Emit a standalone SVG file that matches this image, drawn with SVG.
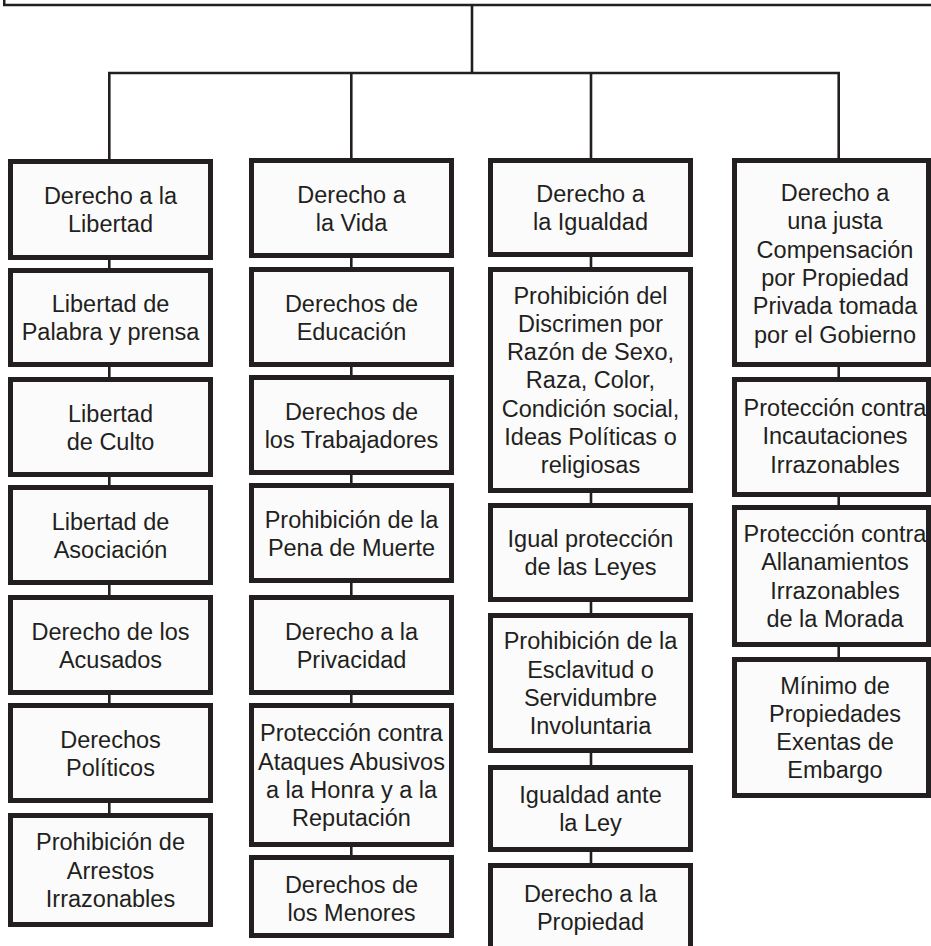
<svg xmlns="http://www.w3.org/2000/svg" width="931" height="946" viewBox="0 0 931 946">
<style>
.bg{fill:#ffffff}
.box{fill:#fbfbfb;stroke:#231f20;stroke-width:5}
.top{fill:#ffffff;stroke:#231f20;stroke-width:2.5}
.conn{stroke:#231f20;stroke-width:2.6;fill:none}
text{font-family:"Liberation Sans",Arial,Helvetica,sans-serif;font-size:23.5px;fill:#231f20;text-anchor:middle}
</style>
<rect class="bg" x="0" y="0" width="931" height="946"/>
<g id="root"><rect class="top" x="4.25" y="-20" width="950" height="25"/></g>
<g id="connectors">
<line class="conn" x1="472" y1="5" x2="472" y2="73"/>
<line class="conn" x1="108" y1="73" x2="840" y2="73"/>
<line class="conn" x1="109.3" y1="73" x2="109.3" y2="815"/>
<line class="conn" x1="351.3" y1="73" x2="351.3" y2="857"/>
<line class="conn" x1="591" y1="73" x2="591" y2="865"/>
<line class="conn" x1="838.7" y1="73" x2="838.7" y2="660"/>
</g>
<g id="c1n1"><rect class="box" x="10.5" y="161.5" width="200" height="96"/><text x="110.5" y="204">Derecho a la</text><text x="110.5" y="232.3">Libertad</text></g>
<g id="c1n2"><rect class="box" x="10.5" y="270.5" width="200" height="94"/><text x="110.5" y="312">Libertad de</text><text x="110.5" y="340.3">Palabra y prensa</text></g>
<g id="c1n3"><rect class="box" x="10.5" y="379.5" width="200" height="95"/><text x="110.5" y="421.5">Libertad</text><text x="110.5" y="449.8">de Culto</text></g>
<g id="c1n4"><rect class="box" x="10.5" y="487.5" width="200" height="95"/><text x="110.5" y="529.5">Libertad de</text><text x="110.5" y="557.8">Asociación</text></g>
<g id="c1n5"><rect class="box" x="10.5" y="597.5" width="200" height="95"/><text x="110.5" y="639.5">Derecho de los</text><text x="110.5" y="667.8">Acusados</text></g>
<g id="c1n6"><rect class="box" x="10.5" y="705.5" width="200" height="95"/><text x="110.5" y="747.5">Derechos</text><text x="110.5" y="775.8">Políticos</text></g>
<g id="c1n7"><rect class="box" x="10.5" y="815.5" width="200" height="109"/><text x="110.5" y="850.3">Prohibición de</text><text x="110.5" y="878.6">Arrestos</text><text x="110.5" y="906.9">Irrazonables</text></g>

<g id="c2n1"><rect class="box" x="251.5" y="160.5" width="200" height="95"/><text x="351.5" y="202.5">Derecho a</text><text x="351.5" y="230.8">la Vida</text></g>
<g id="c2n2"><rect class="box" x="251.5" y="269.5" width="200" height="95"/><text x="351.5" y="311.5">Derechos de</text><text x="351.5" y="339.8">Educación</text></g>
<g id="c2n3"><rect class="box" x="251.5" y="377.5" width="200" height="95"/><text x="351.5" y="419.5">Derechos de</text><text x="351.5" y="447.8">los Trabajadores</text></g>
<g id="c2n4"><rect class="box" x="251.5" y="485.5" width="200" height="95"/><text x="351.5" y="527.5">Prohibición de la</text><text x="351.5" y="555.8">Pena de Muerte</text></g>
<g id="c2n5"><rect class="box" x="251.5" y="597.5" width="200" height="95"/><text x="351.5" y="639.5">Derecho a la</text><text x="351.5" y="667.8">Privacidad</text></g>
<g id="c2n6"><rect class="box" x="251.5" y="705.5" width="200" height="139"/><text x="351.5" y="741.2">Protección contra</text><text x="351.5" y="769.5">Ataques Abusivos</text><text x="351.5" y="797.8">a la Honra y a la</text><text x="351.5" y="826.1">Reputación</text></g>
<g id="c2n7"><rect class="box" x="251.5" y="857.5" width="200" height="78"/><text x="351.5" y="892.5">Derechos de</text><text x="351.5" y="920.8">los Menores</text></g>

<g id="c3n1"><rect class="box" x="490.5" y="160.5" width="200" height="94"/><text x="590.5" y="202">Derecho a</text><text x="590.5" y="230.3">la Igualdad</text></g>
<g id="c3n2"><rect class="box" x="490.5" y="269.5" width="200" height="221"/><text x="590.5" y="303.5">Prohibición del</text><text x="590.5" y="331.8">Discrimen por</text><text x="590.5" y="360.1">Razón de Sexo,</text><text x="590.5" y="388.4">Raza, Color,</text><text x="590.5" y="416.7">Condición social,</text><text x="590.5" y="445">Ideas Políticas o</text><text x="590.5" y="473.3">religiosas</text></g>
<g id="c3n3"><rect class="box" x="490.5" y="505.5" width="200" height="94"/><text x="590.5" y="547">Igual protección</text><text x="590.5" y="575.3">de las Leyes</text></g>
<g id="c3n4"><rect class="box" x="490.5" y="615.5" width="200" height="135"/><text x="590.5" y="649.2">Prohibición de la</text><text x="590.5" y="677.5">Esclavitud o</text><text x="590.5" y="705.8">Servidumbre</text><text x="590.5" y="734.1">Involuntaria</text></g>
<g id="c3n5"><rect class="box" x="490.5" y="767.5" width="200" height="82"/><text x="590.5" y="803">Igualdad ante</text><text x="590.5" y="831.3">la Ley</text></g>
<g id="c3n6"><rect class="box" x="490.5" y="865.5" width="200" height="86"/><text x="590.5" y="901.7">Derecho a la</text><text x="590.5" y="930">Propiedad</text></g>

<g id="c4n1"><rect class="box" x="734.5" y="160.5" width="194" height="204"/><text x="835" y="201">Derecho a</text><text x="835" y="229.3">una justa</text><text x="835" y="257.6">Compensación</text><text x="835" y="285.9">por Propiedad</text><text x="835" y="314.2">Privada tomada</text><text x="835" y="342.5">por el Gobierno</text></g>
<g id="c4n2"><rect class="box" x="734.5" y="379.5" width="194" height="115"/><text x="835" y="416">Protección contra</text><text x="835" y="444.3">Incautaciones</text><text x="835" y="472.6">Irrazonables</text></g>
<g id="c4n3"><rect class="box" x="734.5" y="507.5" width="194" height="137"/><text x="835" y="542">Protección contra</text><text x="835" y="570.3">Allanamientos</text><text x="835" y="598.6">Irrazonables</text><text x="835" y="626.9">de la Morada</text></g>
<g id="c4n4"><rect class="box" x="734.5" y="659.5" width="194" height="136"/><text x="835" y="693.5">Mínimo de</text><text x="835" y="721.8">Propiedades</text><text x="835" y="750.1">Exentas de</text><text x="835" y="778.4">Embargo</text></g>
</svg>
